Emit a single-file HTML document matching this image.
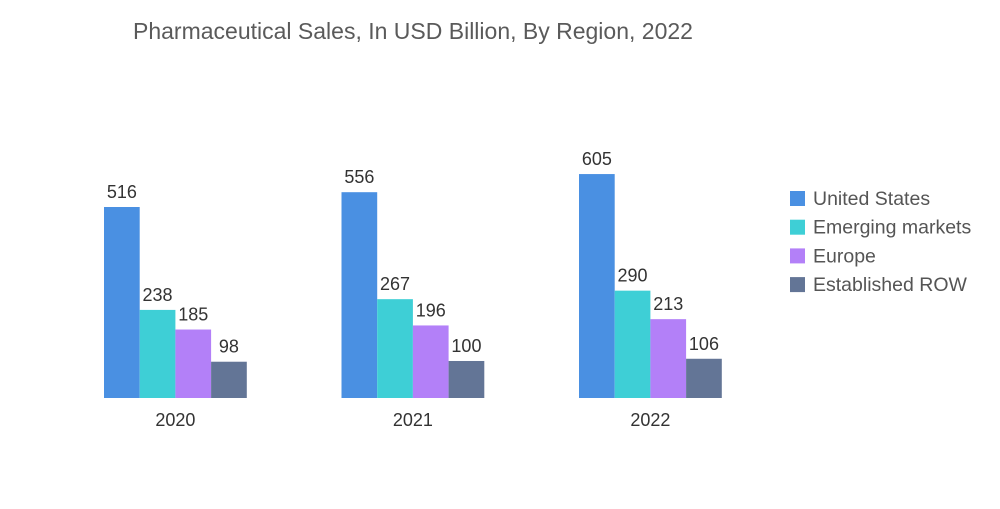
<!DOCTYPE html>
<html><head><meta charset="utf-8"><style>
body{margin:0;background:#fff;width:1000px;height:504px;overflow:hidden;font-family:"Liberation Sans",sans-serif}
</style></head><body>
<svg width="1000" height="504" id="c">
<text x="133" y="39" font-size="23" fill="#5a5a5a">Pharmaceutical Sales, In USD Billion, By Region, 2022</text>
</svg>
<script>
const years=["2020","2021","2022"];
const seriesNames=["United States","Emerging markets","Europe","Established ROW"];
const us=[516,556,605];
const emerging=[238,267,290];
const europe=[185,196,213];
const row=[98,100,106];
const colors=["#4a90e2","#3ecfd6","#b380f8","#637596"];
const svg=document.getElementById('c');
const NS="http://www.w3.org/2000/svg";
const base=398, scale=191/516, bw=35.7;
const y=v=>base-v*scale;
const gx=i=>104+i*237.5;
function mk(t,a){const e=document.createElementNS(NS,t);for(const k in a)e.setAttribute(k,a[k]);svg.appendChild(e);return e;}
const all=[us,emerging,europe,row];
years.forEach((yr,i)=>{
  all.forEach((s,j)=>{
    const x=gx(i)+j*bw;
    const r=mk('rect',{x:x,y:y(s[i]),width:bw,height:base-y(s[i]),fill:colors[j]});
    
    
    const t=mk('text',{x:x+bw/2,y:y(s[i])-9,'font-size':18,'text-anchor':'middle',fill:'#333'});
    t.textContent=s[i];
    
    
  });
  const t=mk('text',{x:gx(i)+2*bw,y:426,'font-size':18,'text-anchor':'middle',fill:'#333'});
  t.textContent=yr;
  
  
});
seriesNames.forEach((n,j)=>{
  const yy=199+j*28.7;
  const r=mk('rect',{x:790,y:yy-8,width:15,height:15,fill:colors[j]});
  
  
  const t=mk('text',{x:813,y:yy+6,'font-size':19.5,fill:'#555'});
  t.textContent=n;
  
  
});
</script>
</body></html>
